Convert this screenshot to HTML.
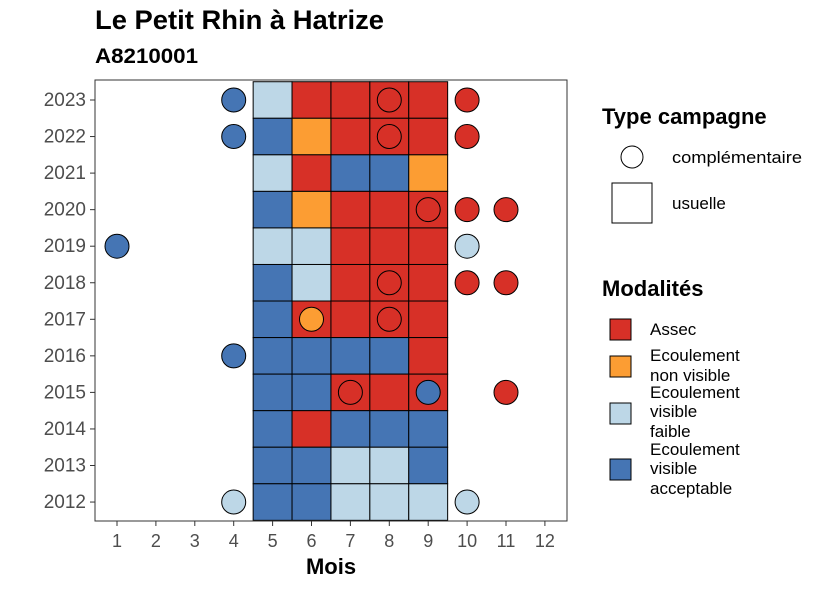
<!DOCTYPE html>
<html><head><meta charset="utf-8"><style>
body{margin:0;background:#fff;font-family:"Liberation Sans",sans-serif}
</style></head><body>
<svg id="chart" width="826" height="590" xmlns="http://www.w3.org/2000/svg" font-family="Liberation Sans, sans-serif">
<text x="95" y="29" font-size="27" font-weight="bold" textLength="289" lengthAdjust="spacingAndGlyphs">Le Petit Rhin à Hatrize</text>
<text x="95" y="63" font-size="21" font-weight="bold" textLength="103" lengthAdjust="spacingAndGlyphs">A8210001</text>
<g id="tiles"></g>
<g id="circles"></g>
<rect x="95" y="80" width="472" height="441" fill="none" stroke="#333" stroke-width="1"/>
<g id="axes"></g>
<text x="331" y="574" font-size="22" font-weight="bold" text-anchor="middle">Mois</text>
<g>
<text x="602" y="124" font-size="22" font-weight="bold">Type campagne</text>
<circle cx="632" cy="157" r="11" fill="#fff" stroke="#000"/>
<text x="672" y="163" font-size="17" textLength="130" lengthAdjust="spacingAndGlyphs">complémentaire</text>
<rect x="612" y="183" width="40" height="40" fill="#fff" stroke="#000"/>
<text x="672" y="209" font-size="17">usuelle</text>
</g>
<g>
<text x="602" y="296" font-size="22" font-weight="bold">Modalités</text>
<rect x="610" y="319" width="21" height="21" fill="#D73027" stroke="#000"/>
<text x="650" y="335" font-size="17">Assec</text>
<rect x="610" y="356" width="21" height="21" fill="#FC9D33" stroke="#000"/>
<text x="650" y="361" font-size="17">Ecoulement</text><text x="650" y="381" font-size="17">non visible</text>
<rect x="610" y="403" width="21" height="21" fill="#BDD7E7" stroke="#000"/>
<text x="650" y="398" font-size="17">Ecoulement</text><text x="650" y="417" font-size="17">visible</text><text x="650" y="437" font-size="17">faible</text>
<rect x="610" y="459" width="21" height="21" fill="#4575B4" stroke="#000"/>
<text x="650" y="455" font-size="17">Ecoulement</text><text x="650" y="474" font-size="17">visible</text><text x="650" y="494" font-size="17">acceptable</text>
</g>
</svg>
<script>
const years=[2023,2022,2021,2020,2019,2018,2017,2016,2015,2014,2013,2012];
const months=[1,2,3,4,5,6,7,8,9,10,11,12];
const tileMonths=[5,6,7,8,9];
const tileValues=[
["F","A","A","A","A"],
["V","N","A","A","A"],
["F","A","V","V","N"],
["V","N","A","A","A"],
["F","F","A","A","A"],
["V","F","A","A","A"],
["V","A","A","A","A"],
["V","V","V","V","A"],
["V","V","A","A","A"],
["V","A","V","V","V"],
["V","V","F","F","V"],
["V","V","F","F","F"]];
const circleYears=[2023,2023,2023,2022,2022,2022,2020,2020,2020,2019,2019,2018,2018,2018,2017,2017,2016,2015,2015,2015,2012,2012];
const circleMonths=[4,8,10,4,8,10,9,10,11,1,10,8,10,11,6,8,4,7,9,11,4,10];
const circleValues=["V","A","A","V","A","A","A","A","A","V","F","A","A","A","N","A","V","A","V","A","F","F"];
const col={A:"#D73027",N:"#FC9D33",F:"#BDD7E7",V:"#4575B4"};
const ns="http://www.w3.org/2000/svg";
const xs=m=>117+(m-1)*38.9;
const ys=y=>100+(2023-y)*36.55;
const tg=document.getElementById('tiles'),cg=document.getElementById('circles'),ag=document.getElementById('axes');
function mk(t,a,p){const e=document.createElementNS(ns,t);for(const k in a)e.setAttribute(k,a[k]);p.appendChild(e);return e;}
years.forEach((y,i)=>tileMonths.forEach((m,j)=>{
 const r=mk('rect',{x:xs(m)-19.45,y:ys(y)-18.27,width:38.9,height:36.55,fill:col[tileValues[i][j]],stroke:"#000","stroke-width":1},tg);
 
 
}));
circleYears.forEach((y,i)=>{
 const c=mk('circle',{cx:xs(circleMonths[i]),cy:ys(y),r:12,fill:col[circleValues[i]],stroke:"#000","stroke-width":1},cg);
 
 
});
months.forEach(m=>{
 mk('line',{x1:xs(m),x2:xs(m),y1:521,y2:526,stroke:"#333"},ag);
 const t=mk('text',{x:xs(m),y:547,"font-size":18,"text-anchor":"middle",fill:"#4d4d4d"},ag);t.textContent=m;
 
 
});
years.forEach(y=>{
 mk('line',{x1:90,x2:95,y1:ys(y),y2:ys(y),stroke:"#333"},ag);
 const t=mk('text',{x:86,y:ys(y)+6,"font-size":19,"text-anchor":"end",fill:"#4d4d4d"},ag);t.textContent=y;
 
 
});
</script>
</body></html>
